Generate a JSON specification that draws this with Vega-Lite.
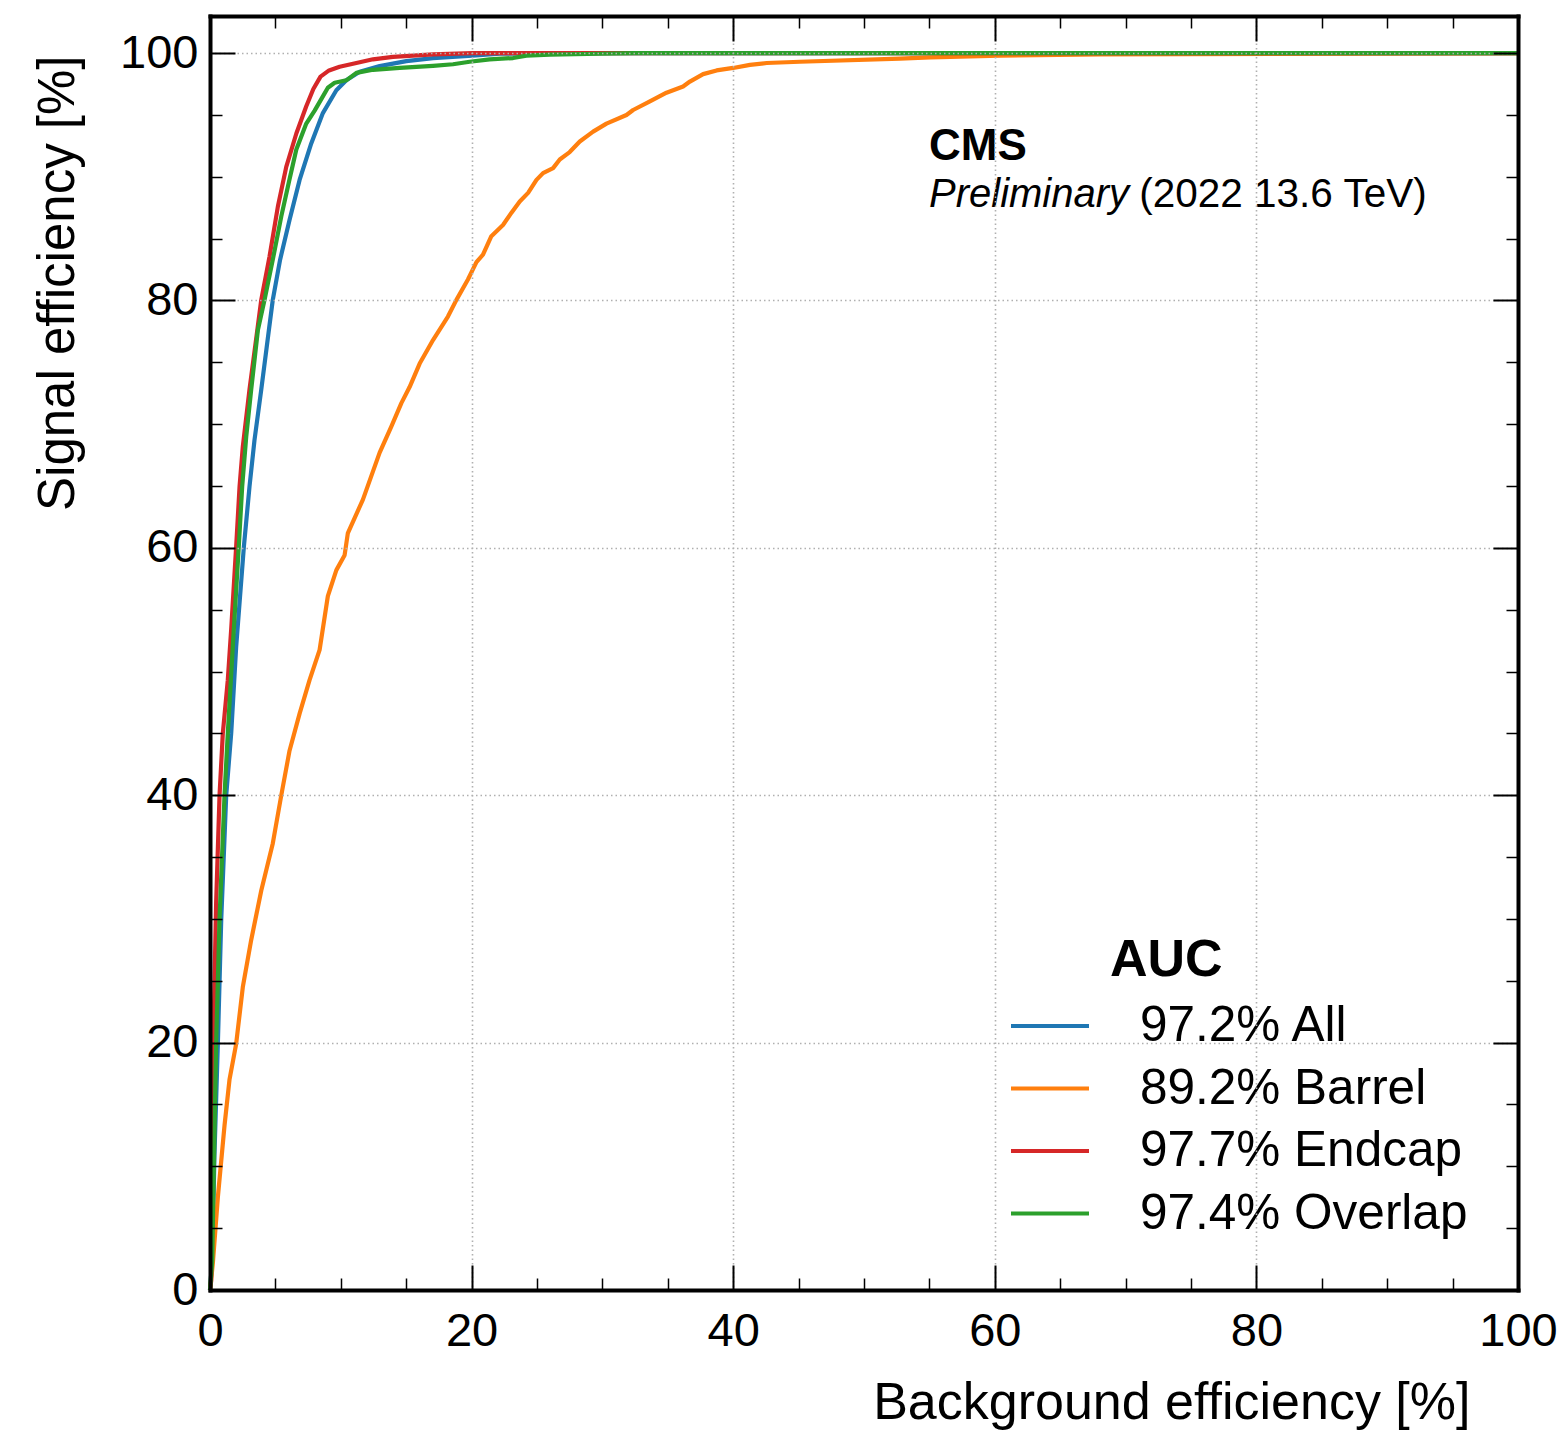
{
  "$schema": "https://vega.github.io/schema/vega-lite/v6.json",
  "width": 1308,
  "height": 1274,
  "autosize": {"type": "none"},
  "padding": {"left": 210, "top": 16, "right": 48, "bottom": 143},
  "background": "white",
  "config": {
    "view": {"stroke": null},
    "font": "Liberation Sans",
    "axis": {"labelColor": "black", "tickColor": "black", "domainColor": "black", "titleColor": "black"}
  },
  "resolve": {"axis": {"x": "independent", "y": "independent"}},
  "layer": [
    {
      "data": {"values": [
        {"curve": "97.2% All", "bkg": 0, "sig": 0},
        {"curve": "97.2% All", "bkg": 0.17, "sig": 2.4},
        {"curve": "97.2% All", "bkg": 0.34, "sig": 10.9},
        {"curve": "97.2% All", "bkg": 0.6, "sig": 19.9},
        {"curve": "97.2% All", "bkg": 0.86, "sig": 30.0},
        {"curve": "97.2% All", "bkg": 1.24, "sig": 40.0},
        {"curve": "97.2% All", "bkg": 1.62, "sig": 45.0},
        {"curve": "97.2% All", "bkg": 2.0, "sig": 52.0},
        {"curve": "97.2% All", "bkg": 2.59, "sig": 60.1},
        {"curve": "97.2% All", "bkg": 3.02, "sig": 64.95},
        {"curve": "97.2% All", "bkg": 3.4, "sig": 68.7},
        {"curve": "97.2% All", "bkg": 3.92, "sig": 72.8},
        {"curve": "97.2% All", "bkg": 4.5, "sig": 77.6},
        {"curve": "97.2% All", "bkg": 4.8, "sig": 80.05},
        {"curve": "97.2% All", "bkg": 5.36, "sig": 83.3},
        {"curve": "97.2% All", "bkg": 6.08, "sig": 86.5},
        {"curve": "97.2% All", "bkg": 6.85, "sig": 89.75},
        {"curve": "97.2% All", "bkg": 7.74, "sig": 92.7},
        {"curve": "97.2% All", "bkg": 8.63, "sig": 95.15},
        {"curve": "97.2% All", "bkg": 9.66, "sig": 97.0},
        {"curve": "97.2% All", "bkg": 10.42, "sig": 97.8},
        {"curve": "97.2% All", "bkg": 11.44, "sig": 98.5},
        {"curve": "97.2% All", "bkg": 12.97, "sig": 98.95},
        {"curve": "97.2% All", "bkg": 15.01, "sig": 99.35},
        {"curve": "97.2% All", "bkg": 17.05, "sig": 99.6},
        {"curve": "97.2% All", "bkg": 20.06, "sig": 99.8},
        {"curve": "97.2% All", "bkg": 22.15, "sig": 99.95},
        {"curve": "97.2% All", "bkg": 26, "sig": 100},
        {"curve": "97.2% All", "bkg": 100, "sig": 100},

        {"curve": "89.2% Barrel", "bkg": 0, "sig": 0},
        {"curve": "89.2% Barrel", "bkg": 0.21, "sig": 2.05},
        {"curve": "89.2% Barrel", "bkg": 0.6, "sig": 7.5},
        {"curve": "89.2% Barrel", "bkg": 1.11, "sig": 13.3},
        {"curve": "89.2% Barrel", "bkg": 1.49, "sig": 17.0},
        {"curve": "89.2% Barrel", "bkg": 2.0, "sig": 19.9},
        {"curve": "89.2% Barrel", "bkg": 2.51, "sig": 24.5},
        {"curve": "89.2% Barrel", "bkg": 3.15, "sig": 28.3},
        {"curve": "89.2% Barrel", "bkg": 3.92, "sig": 32.3},
        {"curve": "89.2% Barrel", "bkg": 4.8, "sig": 36.1},
        {"curve": "89.2% Barrel", "bkg": 5.45, "sig": 40.0},
        {"curve": "89.2% Barrel", "bkg": 6.08, "sig": 43.6},
        {"curve": "89.2% Barrel", "bkg": 6.85, "sig": 46.6},
        {"curve": "89.2% Barrel", "bkg": 7.61, "sig": 49.3},
        {"curve": "89.2% Barrel", "bkg": 8.38, "sig": 51.75},
        {"curve": "89.2% Barrel", "bkg": 9.01, "sig": 56.1},
        {"curve": "89.2% Barrel", "bkg": 9.66, "sig": 58.2},
        {"curve": "89.2% Barrel", "bkg": 10.29, "sig": 59.4},
        {"curve": "89.2% Barrel", "bkg": 10.54, "sig": 61.2},
        {"curve": "89.2% Barrel", "bkg": 11.69, "sig": 63.9},
        {"curve": "89.2% Barrel", "bkg": 12.33, "sig": 65.8},
        {"curve": "89.2% Barrel", "bkg": 12.97, "sig": 67.7},
        {"curve": "89.2% Barrel", "bkg": 13.86, "sig": 69.8},
        {"curve": "89.2% Barrel", "bkg": 14.63, "sig": 71.7},
        {"curve": "89.2% Barrel", "bkg": 15.26, "sig": 73.0},
        {"curve": "89.2% Barrel", "bkg": 16.03, "sig": 74.9},
        {"curve": "89.2% Barrel", "bkg": 17.05, "sig": 76.8},
        {"curve": "89.2% Barrel", "bkg": 18.19, "sig": 78.7},
        {"curve": "89.2% Barrel", "bkg": 18.84, "sig": 80.05},
        {"curve": "89.2% Barrel", "bkg": 19.72, "sig": 81.7},
        {"curve": "89.2% Barrel", "bkg": 20.37, "sig": 83.1},
        {"curve": "89.2% Barrel", "bkg": 20.87, "sig": 83.7},
        {"curve": "89.2% Barrel", "bkg": 21.51, "sig": 85.2},
        {"curve": "89.2% Barrel", "bkg": 22.4, "sig": 86.1},
        {"curve": "89.2% Barrel", "bkg": 23.05, "sig": 87.1},
        {"curve": "89.2% Barrel", "bkg": 23.68, "sig": 88.0},
        {"curve": "89.2% Barrel", "bkg": 24.32, "sig": 88.7},
        {"curve": "89.2% Barrel", "bkg": 24.96, "sig": 89.75},
        {"curve": "89.2% Barrel", "bkg": 25.46, "sig": 90.3},
        {"curve": "89.2% Barrel", "bkg": 26.23, "sig": 90.7},
        {"curve": "89.2% Barrel", "bkg": 26.74, "sig": 91.4},
        {"curve": "89.2% Barrel", "bkg": 27.5, "sig": 92.0},
        {"curve": "89.2% Barrel", "bkg": 28.27, "sig": 92.85},
        {"curve": "89.2% Barrel", "bkg": 29.29, "sig": 93.65},
        {"curve": "89.2% Barrel", "bkg": 30.31, "sig": 94.3},
        {"curve": "89.2% Barrel", "bkg": 31.84, "sig": 95.0},
        {"curve": "89.2% Barrel", "bkg": 32.35, "sig": 95.4},
        {"curve": "89.2% Barrel", "bkg": 33.63, "sig": 96.1},
        {"curve": "89.2% Barrel", "bkg": 34.9, "sig": 96.8},
        {"curve": "89.2% Barrel", "bkg": 36.17, "sig": 97.3},
        {"curve": "89.2% Barrel", "bkg": 36.69, "sig": 97.7},
        {"curve": "89.2% Barrel", "bkg": 37.7, "sig": 98.3},
        {"curve": "89.2% Barrel", "bkg": 38.73, "sig": 98.6},
        {"curve": "89.2% Barrel", "bkg": 40.0, "sig": 98.8},
        {"curve": "89.2% Barrel", "bkg": 41.28, "sig": 99.05},
        {"curve": "89.2% Barrel", "bkg": 42.56, "sig": 99.2},
        {"curve": "89.2% Barrel", "bkg": 45.1, "sig": 99.3},
        {"curve": "89.2% Barrel", "bkg": 52.75, "sig": 99.55},
        {"curve": "89.2% Barrel", "bkg": 55.05, "sig": 99.65},
        {"curve": "89.2% Barrel", "bkg": 60.4, "sig": 99.8},
        {"curve": "89.2% Barrel", "bkg": 68.05, "sig": 99.9},
        {"curve": "89.2% Barrel", "bkg": 100, "sig": 100},

        {"curve": "97.7% Endcap", "bkg": 0, "sig": 0},
        {"curve": "97.7% Endcap", "bkg": 0.09, "sig": 0.73},
        {"curve": "97.7% Endcap", "bkg": 0.17, "sig": 10.9},
        {"curve": "97.7% Endcap", "bkg": 0.27, "sig": 21.1},
        {"curve": "97.7% Endcap", "bkg": 0.47, "sig": 31.3},
        {"curve": "97.7% Endcap", "bkg": 0.73, "sig": 40.0},
        {"curve": "97.7% Endcap", "bkg": 0.98, "sig": 45.0},
        {"curve": "97.7% Endcap", "bkg": 1.36, "sig": 49.3},
        {"curve": "97.7% Endcap", "bkg": 1.62, "sig": 53.4},
        {"curve": "97.7% Endcap", "bkg": 2.0, "sig": 60.1},
        {"curve": "97.7% Endcap", "bkg": 2.26, "sig": 64.95},
        {"curve": "97.7% Endcap", "bkg": 2.51, "sig": 68.2},
        {"curve": "97.7% Endcap", "bkg": 3.02, "sig": 72.8},
        {"curve": "97.7% Endcap", "bkg": 3.92, "sig": 80.05},
        {"curve": "97.7% Endcap", "bkg": 4.55, "sig": 83.55},
        {"curve": "97.7% Endcap", "bkg": 5.19, "sig": 87.6},
        {"curve": "97.7% Endcap", "bkg": 5.83, "sig": 90.8},
        {"curve": "97.7% Endcap", "bkg": 6.6, "sig": 93.5},
        {"curve": "97.7% Endcap", "bkg": 7.36, "sig": 95.7},
        {"curve": "97.7% Endcap", "bkg": 7.9, "sig": 97.1},
        {"curve": "97.7% Endcap", "bkg": 8.45, "sig": 98.1},
        {"curve": "97.7% Endcap", "bkg": 9.1, "sig": 98.6},
        {"curve": "97.7% Endcap", "bkg": 9.91, "sig": 98.9},
        {"curve": "97.7% Endcap", "bkg": 11.19, "sig": 99.2},
        {"curve": "97.7% Endcap", "bkg": 12.46, "sig": 99.5},
        {"curve": "97.7% Endcap", "bkg": 13.99, "sig": 99.7},
        {"curve": "97.7% Endcap", "bkg": 17.05, "sig": 99.9},
        {"curve": "97.7% Endcap", "bkg": 20.06, "sig": 100},
        {"curve": "97.7% Endcap", "bkg": 100, "sig": 100},

        {"curve": "97.4% Overlap", "bkg": 0, "sig": 0},
        {"curve": "97.4% Overlap", "bkg": 0.17, "sig": 2.4},
        {"curve": "97.4% Overlap", "bkg": 0.34, "sig": 12.6},
        {"curve": "97.4% Overlap", "bkg": 0.47, "sig": 19.9},
        {"curve": "97.4% Overlap", "bkg": 0.73, "sig": 30.0},
        {"curve": "97.4% Overlap", "bkg": 1.11, "sig": 40.0},
        {"curve": "97.4% Overlap", "bkg": 1.36, "sig": 45.0},
        {"curve": "97.4% Overlap", "bkg": 1.74, "sig": 52.0},
        {"curve": "97.4% Overlap", "bkg": 2.2, "sig": 60.1},
        {"curve": "97.4% Overlap", "bkg": 2.46, "sig": 64.95},
        {"curve": "97.4% Overlap", "bkg": 2.77, "sig": 69.0},
        {"curve": "97.4% Overlap", "bkg": 3.15, "sig": 72.8},
        {"curve": "97.4% Overlap", "bkg": 3.66, "sig": 77.6},
        {"curve": "97.4% Overlap", "bkg": 4.17, "sig": 80.05},
        {"curve": "97.4% Overlap", "bkg": 4.8, "sig": 83.3},
        {"curve": "97.4% Overlap", "bkg": 5.45, "sig": 86.8},
        {"curve": "97.4% Overlap", "bkg": 6.08, "sig": 89.8},
        {"curve": "97.4% Overlap", "bkg": 6.6, "sig": 92.2},
        {"curve": "97.4% Overlap", "bkg": 7.36, "sig": 94.3},
        {"curve": "97.4% Overlap", "bkg": 8.0, "sig": 95.35},
        {"curve": "97.4% Overlap", "bkg": 8.63, "sig": 96.5},
        {"curve": "97.4% Overlap", "bkg": 9.01, "sig": 97.2},
        {"curve": "97.4% Overlap", "bkg": 9.53, "sig": 97.6},
        {"curve": "97.4% Overlap", "bkg": 10.42, "sig": 97.8},
        {"curve": "97.4% Overlap", "bkg": 11.19, "sig": 98.4},
        {"curve": "97.4% Overlap", "bkg": 12.46, "sig": 98.65},
        {"curve": "97.4% Overlap", "bkg": 14.5, "sig": 98.8},
        {"curve": "97.4% Overlap", "bkg": 17.05, "sig": 98.97},
        {"curve": "97.4% Overlap", "bkg": 18.58, "sig": 99.1},
        {"curve": "97.4% Overlap", "bkg": 19.85, "sig": 99.3},
        {"curve": "97.4% Overlap", "bkg": 21.38, "sig": 99.5},
        {"curve": "97.4% Overlap", "bkg": 23.17, "sig": 99.6},
        {"curve": "97.4% Overlap", "bkg": 24.19, "sig": 99.8},
        {"curve": "97.4% Overlap", "bkg": 25.98, "sig": 99.87},
        {"curve": "97.4% Overlap", "bkg": 29.8, "sig": 99.95},
        {"curve": "97.4% Overlap", "bkg": 32.35, "sig": 100},
        {"curve": "97.4% Overlap", "bkg": 100, "sig": 100}
      ]},
      "mark": {"type": "line", "strokeWidth": 4.2, "interpolate": "linear", "strokeJoin": "round"},
      "encoding": {
        "x": {
          "field": "bkg", "type": "quantitative",
          "scale": {"domain": [0, 100], "nice": false, "zero": false},
          "axis": {
            "orient": "bottom", "values": [0, 20, 40, 60, 80, 100],
            "domain": true, "domainWidth": 4, "domainCap": "square",
            "tickSize": -25, "tickWidth": 2,
            "grid": true, "gridColor": "#b0b0b0", "gridDash": [1.5, 3], "gridWidth": 1.6,
            "labelFontSize": 47, "labelPadding": 43, "labelFlush": false, "labelOverlap": false,
            "title": "Background efficiency [%]", "titleFontSize": 52, "titleFontWeight": "normal",
            "titleAnchor": "end", "titleAlign": "right", "titleBaseline": "alphabetic",
            "titleX": 1260, "titleY": 128, "zindex": 1
          }
        },
        "y": {
          "field": "sig", "type": "quantitative",
          "scale": {"domain": [0, 103], "nice": false, "zero": false},
          "axis": {
            "orient": "left", "values": [0, 20, 40, 60, 80, 100],
            "domain": true, "domainWidth": 4, "domainCap": "square",
            "tickSize": -25, "tickWidth": 2,
            "grid": true, "gridColor": "#b0b0b0", "gridDash": [1.5, 3], "gridWidth": 1.6,
            "labelFontSize": 47, "labelPadding": 37, "labelOverlap": false, "labelFlush": false,
            "title": "Signal efficiency [%]", "titleFontSize": 51, "titleFontWeight": "normal",
            "titleAngle": -90, "titleAnchor": "end", "titleAlign": "right", "titleBaseline": "alphabetic",
            "titleX": -137, "titleY": 39, "zindex": 1
          }
        },
        "color": {
          "field": "curve", "type": "nominal",
          "scale": {
            "domain": ["97.2% All", "89.2% Barrel", "97.7% Endcap", "97.4% Overlap"],
            "range": ["#1f77b4", "#ff7f0e", "#d62728", "#2ca02c"]
          },
          "legend": {
            "orient": "none", "legendX": 799, "legendY": 985, "title": null,
            "symbolType": "stroke", "symbolSize": 6084, "symbolStrokeWidth": 4,
            "labelFontSize": 49.5, "labelFont": "Liberation Sans", "labelColor": "black",
            "labelOffset": 49, "rowPadding": 12.5, "clipHeight": 50, "labelLimit": 0
          }
        }
      }
    },
    {
      "data": {"values": [{"bx": 54.97, "sy": 91.37, "t": "CMS"}]},
      "mark": {"type": "text", "align": "left", "baseline": "alphabetic", "fontSize": 44, "fontWeight": "bold", "font": "Liberation Sans", "color": "black"},
      "encoding": {
        "x": {"field": "bx", "type": "quantitative", "scale": {"domain": [0, 100], "nice": false, "zero": false},
          "axis": {"orient": "top", "values": [0, 20, 40, 60, 80, 100], "domain": true, "domainWidth": 4, "domainCap": "square", "tickSize": -25, "tickWidth": 2, "labels": false, "grid": false, "title": null, "zindex": 1}},
        "y": {"field": "sy", "type": "quantitative", "scale": {"domain": [0, 103], "nice": false, "zero": false},
          "axis": {"orient": "right", "values": [0, 20, 40, 60, 80, 100], "domain": true, "domainWidth": 4, "domainCap": "square", "tickSize": -25, "tickWidth": 2, "labels": false, "grid": false, "title": null, "zindex": 1}},
        "text": {"field": "t"}
      }
    },
    {
      "data": {"values": [{"bx": 54.97, "sy": 87.57, "t": "Preliminary"}]},
      "mark": {"type": "text", "align": "left", "baseline": "alphabetic", "fontSize": 40, "fontStyle": "italic", "font": "Liberation Sans", "color": "black"},
      "encoding": {
        "x": {"field": "bx", "type": "quantitative", "scale": {"domain": [0, 100], "nice": false, "zero": false},
          "axis": {"orient": "bottom", "values": [5, 10, 15, 25, 30, 35, 45, 50, 55, 65, 70, 75, 85, 90, 95], "domain": false, "tickSize": -12, "tickWidth": 1.5, "labels": false, "grid": false, "title": null, "zindex": 1}},
        "y": {"field": "sy", "type": "quantitative", "scale": {"domain": [0, 103], "nice": false, "zero": false},
          "axis": {"orient": "left", "values": [5, 10, 15, 25, 30, 35, 45, 50, 55, 65, 70, 75, 85, 90, 95], "domain": false, "tickSize": -12, "tickWidth": 1.5, "labels": false, "grid": false, "title": null, "zindex": 1}},
        "text": {"field": "t"}
      }
    },
    {
      "data": {"values": [{"bx": 71.04, "sy": 87.57, "t": "(2022 13.6 TeV)"}]},
      "mark": {"type": "text", "align": "left", "baseline": "alphabetic", "fontSize": 40.5, "font": "Liberation Sans", "color": "black"},
      "encoding": {
        "x": {"field": "bx", "type": "quantitative", "scale": {"domain": [0, 100], "nice": false, "zero": false},
          "axis": {"orient": "top", "values": [5, 10, 15, 25, 30, 35, 45, 50, 55, 65, 70, 75, 85, 90, 95], "domain": false, "tickSize": -12, "tickWidth": 1.5, "labels": false, "grid": false, "title": null, "zindex": 1}},
        "y": {"field": "sy", "type": "quantitative", "scale": {"domain": [0, 103], "nice": false, "zero": false},
          "axis": {"orient": "right", "values": [5, 10, 15, 25, 30, 35, 45, 50, 55, 65, 70, 75, 85, 90, 95], "domain": false, "tickSize": -12, "tickWidth": 1.5, "labels": false, "grid": false, "title": null, "zindex": 1}},
        "text": {"field": "t"}
      }
    },
    {
      "data": {"values": [{"bx": 68.8, "sy": 25.4, "t": "AUC"}]},
      "mark": {"type": "text", "align": "left", "baseline": "alphabetic", "fontSize": 52, "fontWeight": "bold", "font": "Liberation Sans", "color": "black"},
      "encoding": {
        "x": {"field": "bx", "type": "quantitative", "scale": {"domain": [0, 100], "nice": false, "zero": false}, "axis": null},
        "y": {"field": "sy", "type": "quantitative", "scale": {"domain": [0, 103], "nice": false, "zero": false}, "axis": null},
        "text": {"field": "t"}
      }
    }
  ]
}
